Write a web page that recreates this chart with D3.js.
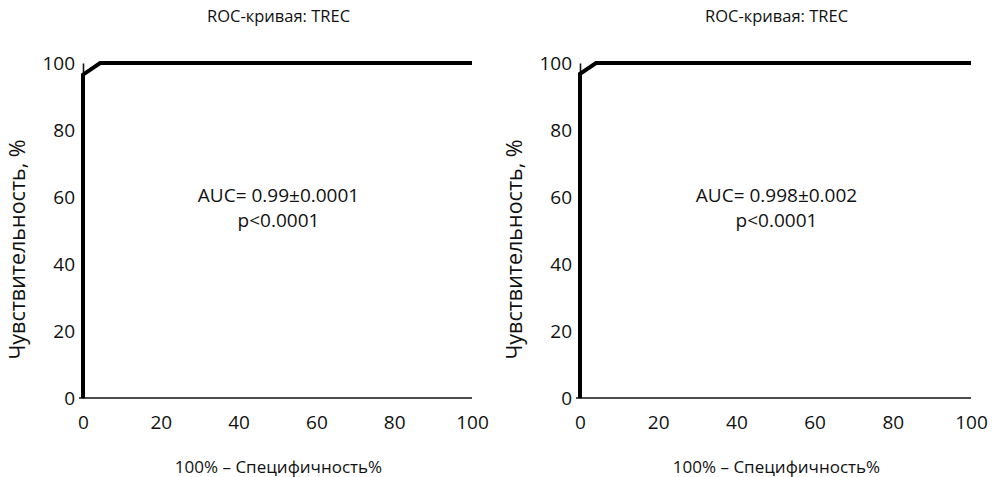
<!DOCTYPE html>
<html><head><meta charset="utf-8">
<script src="https://cdn.jsdelivr.net/npm/d3@7"></script>
<style>body{margin:0;background:#fff}svg{display:block}text{font-family:"Open Sans",sans-serif;fill:#111}</style>
</head><body><svg id="c" width="996" height="477"></svg>
<script>
const titles = ["ROC-кривая: TREC", "ROC-кривая: TREC"];
const xLabel = "100% – Специфичность%";
const yLabel = "Чувствительность, %";
const ticks = [0, 20, 40, 60, 80, 100];
const leftX = [0, 0, 4.4, 100];
const leftY = [0, 96.5, 100, 100];
const rightX = [0, 0, 4.1, 100];
const rightY = [0, 96.8, 100, 100];
const aucText = ["AUC= 0.99±0.0001", "AUC= 0.998±0.002"];
const pText = ["p<0.0001", "p<0.0001"];

const svg = d3.select("#c");
const panels = [
  {x0: 83, x1: 472, xs: leftX, ys: leftY, i: 0},
  {x0: 580, x1: 971, xs: rightX, ys: rightY, i: 1}
];
const yTop = 63, yBot = 398;
panels.forEach(p => {
  const x = d3.scaleLinear().domain([0, 100]).range([p.x0, p.x1]);
  const y = d3.scaleLinear().domain([0, 100]).range([yBot, yTop]);
  const g = svg.append("g");
  const cx = (p.x0 + p.x1) / 2;
  g.append("text").attr("x", cx + 1).attr("y", 22).attr("text-anchor", "middle")
    .style("font-size", "16.5px").text(titles[p.i]);
  // x axis
  const xa = g.append("g").attr("transform", `translate(0,${yBot})`)
    .call(d3.axisBottom(x).tickValues(ticks).tickSize(0).tickPadding(18));
  xa.select(".domain").attr("d", `M${p.x0 - 4},0H${p.x1}`).attr("stroke", "#111").attr("stroke-width", 1.6);
  xa.selectAll("text").style("font-size", "19px").attr("fill", "#111");
  // y axis
  const ya = g.append("g").attr("transform", `translate(${p.x0},0)`)
    .call(d3.axisLeft(y).tickValues(ticks).tickSize(0).tickPadding(8));
  ya.select(".domain").attr("stroke", "#111").attr("stroke-width", 1.6);
  ya.selectAll("text").style("font-size", "19px").attr("fill", "#111");
  // curve
  const pts = p.xs.map((v, k) => [v, p.ys[k]]);
  g.append("path").datum(pts)
    .attr("d", d3.line().x(d => x(d[0])).y(d => y(d[1])))
    .attr("fill", "none").attr("stroke", "#000").attr("stroke-width", 4);
  // labels
  g.append("text").attr("x", cx + 1).attr("y", 202).attr("text-anchor", "middle")
    .style("font-size", "19px").text(aucText[p.i]);
  g.append("text").attr("x", cx + 1).attr("y", 227).attr("text-anchor", "middle")
    .style("font-size", "19px").text(pText[p.i]);
  g.append("text").attr("x", cx + 1).attr("y", 473).attr("text-anchor", "middle")
    .style("font-size", "17px").text(xLabel);
  g.append("text").attr("transform", `translate(${p.x0 - 58},${(yTop + yBot) / 2 + 19}) rotate(-90)`)
    .attr("text-anchor", "middle").style("font-size", "21.5px").text(yLabel);
});
</script></body></html>
